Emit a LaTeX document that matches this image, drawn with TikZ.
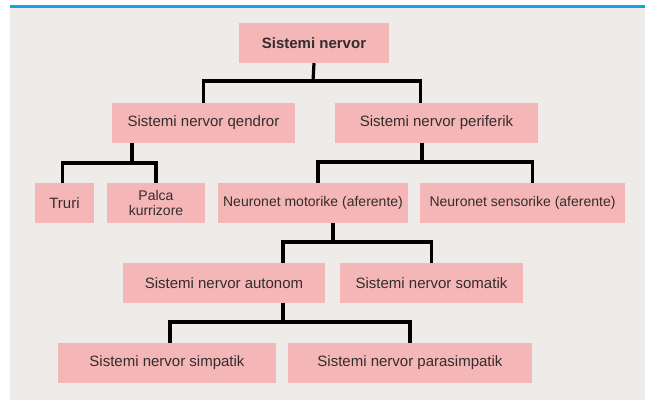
\documentclass[tikz,border=0pt]{standalone}
\usepackage{fontspec}
\setmainfont{Liberation Sans}
\definecolor{boxpink}{HTML}{F5B6B8}
\definecolor{paper}{HTML}{EEEBE9}
\definecolor{rulecyan}{HTML}{0AA8E6}
\definecolor{inkgray}{HTML}{332D2D}
\tikzset{
  unit/.style={fill=boxpink, text=inkgray, minimum height=40pt, inner sep=2pt,
    font=\fontsize{15}{16}\selectfont, align=center},
  link/.style={line width=3.2pt, black},
}

\begin{document}
\begin{tikzpicture}[x=1pt, y=-1pt]
			% Page and top rule
			\useasboundingbox (0,0) rectangle (645,401);
			\fill[paper] (10,8) rectangle (645,400);
			\fill[rulecyan] (10,5) rectangle (645,8.5);

			% Boxes
			\node[unit, minimum width=150pt, font=\fontsize{15}{16}\selectfont\bfseries] (root) at (314,43) {Sistemi nervor};
			\node[unit, minimum width=183pt] (qendror) at (203.5,123) {Sistemi nervor qendror};
			\node[unit, minimum width=203pt] (periferik) at (436.5,123) {Sistemi nervor periferik};
			\node[unit, minimum width=59pt] (truri) at (64.5,203) {Truri};
			\node[unit, minimum width=98pt, font=\fontsize{14}{14.5}\selectfont] (palca) at (156,203) {Palca\\kurrizore};
			\node[unit, minimum width=190pt, font=\fontsize{14}{15}\selectfont] (motorike) at (313,203) {Neuronet motorike (aferente)};
			\node[unit, minimum width=205pt, font=\fontsize{14}{15}\selectfont] (sensorike) at (522.5,203) {Neuronet sensorike (aferente)};
			\node[unit, minimum width=202pt] (autonom) at (224,283) {Sistemi nervor autonom};
			\node[unit, minimum width=183pt] (somatik) at (431.5,283) {Sistemi nervor somatik};
			\node[unit, minimum width=218pt] (simpatik) at (167,363) {Sistemi nervor simpatik};
			\node[unit, minimum width=244pt] (parasimpatik) at (410,363) {Sistemi nervor parasimpatik};

			% Bus points
			\coordinate (rootbus) at (313,81);
			\coordinate (qendrorbus) at (132,163);
			\coordinate (periferikbus) at (422,162);
			\coordinate (motorikebus) at (333,242);
			\coordinate (autonombus) at (283,322);

			% Connectors
			\draw[link] (root.south) -- (rootbus);
			\draw[link] (qendror.north) |- (rootbus) -| ([xshift=-16pt]periferik.north);
			\draw[link] (qendror.south -| qendrorbus) -- (qendrorbus);
			\draw[link] ([xshift=-2pt]truri.north) |- (qendrorbus) -| (palca.north);
			\draw[link] (periferik.south -| periferikbus) -- (periferikbus);
			\draw[link] ([xshift=5pt]motorike.north) |- (periferikbus) -| ([xshift=10pt]sensorike.north);
			\draw[link] (motorike.south -| motorikebus) -- (motorikebus);
			\draw[link] ([xshift=59pt]autonom.north) |- (motorikebus) -| (somatik.north);
			\draw[link] (autonom.south -| autonombus) -- (autonombus);
			\draw[link] ([xshift=3pt]simpatik.north) |- (autonombus) -| (parasimpatik.north);
		\end{tikzpicture}
\end{document}
